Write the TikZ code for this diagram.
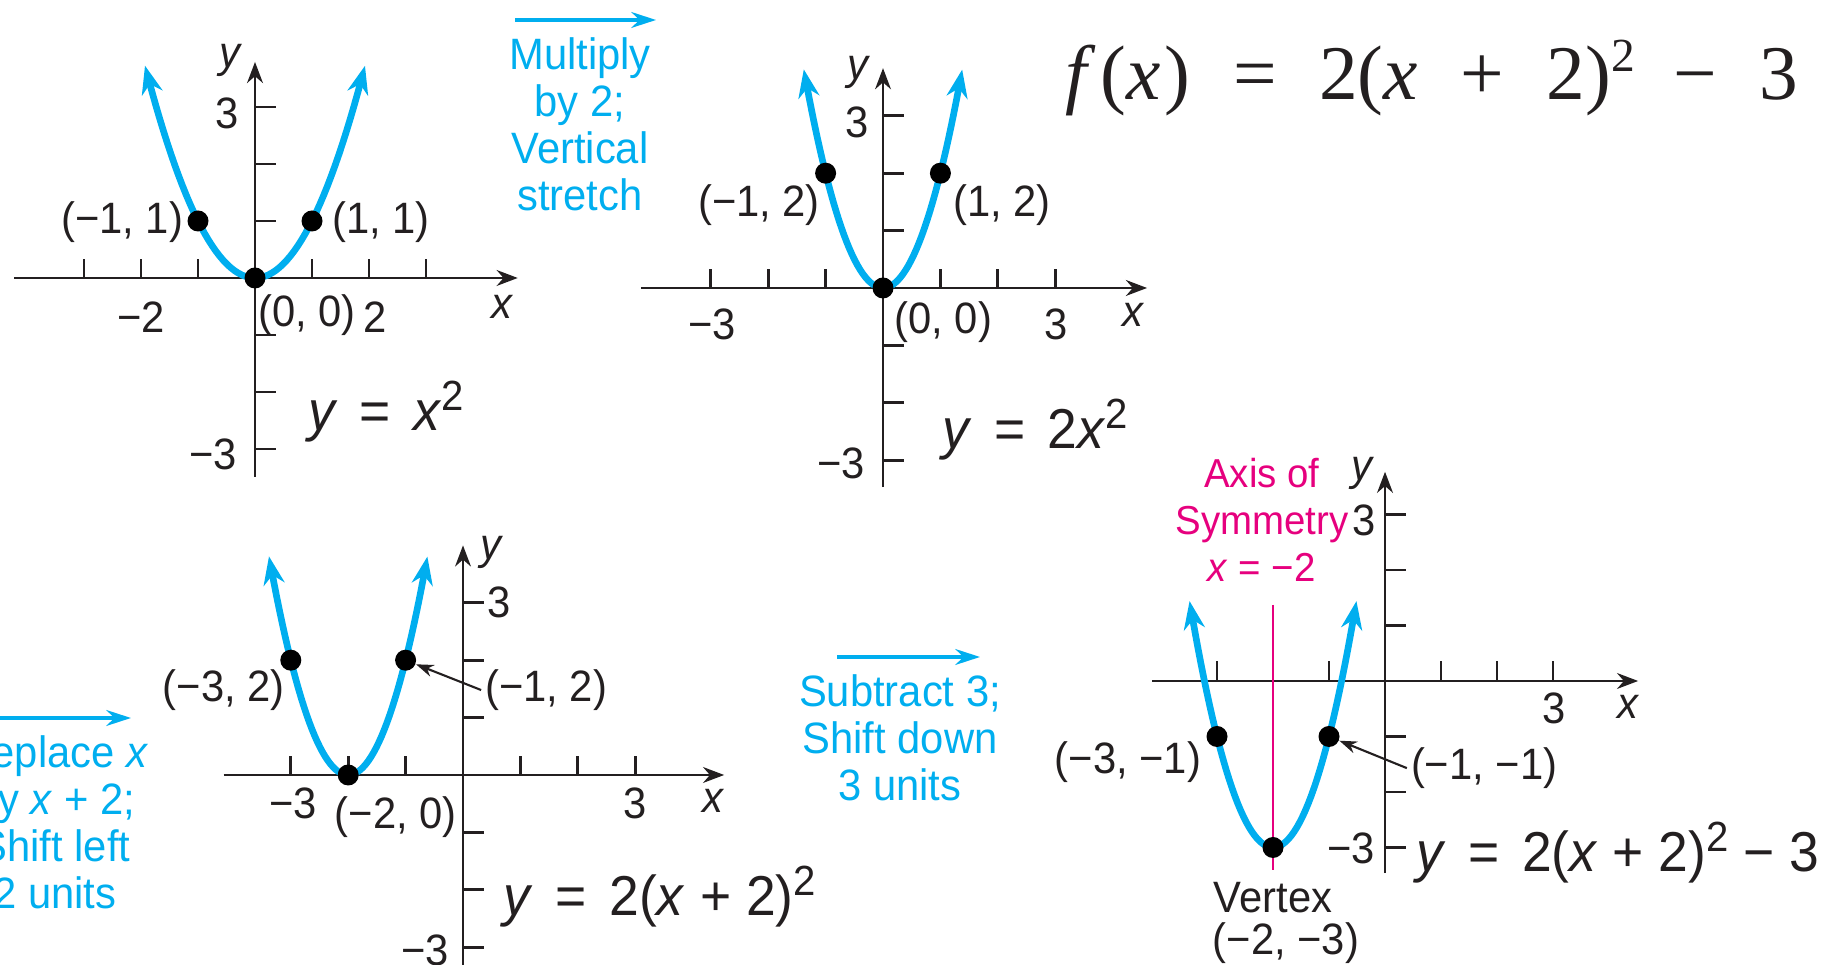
\documentclass[tikz,border=0pt]{standalone}
\usepackage{fontspec}
\usetikzlibrary{arrows.meta}
\usepackage{xcolor}
\setmainfont{Liberation Serif}
\newfontfamily\graphfont[FakeStretch=0.95]{Liberation Sans}
\definecolor{CurveCyan}{HTML}{00AEEF}
\definecolor{AxisMagenta}{HTML}{E6007E}
\definecolor{InkBlack}{HTML}{231F20}
\newcommand{\supsq}{\raisebox{5.7pt}{\fontsize{12}{12}\selectfont 2}}
\newcommand{\eqgap}{\hspace{0.4em}}
\tikzset{
    % Axis styles
    axisline/.style={
        -{Stealth[length=6pt,width=4.5pt]},
        line width=0.8pt,
        draw=InkBlack
    },
    tickmark/.style={
        line width=0.8pt,
        draw=InkBlack
    },
    % Curve and point styles
    parabola/.style={
        {Stealth[length=8pt,width=6pt]}-{Stealth[length=8pt,width=6pt]},
        line width=1.9pt,
        draw=CurveCyan,
        samples=60
    },
    dot/.style={
        circle,
        fill=black,
        inner sep=0pt,
        minimum size=0.21cm
    },
    symmetry/.style={
        line width=0.5pt,
        draw=AxisMagenta
    },
    % Text styles
    lbl/.style={
        font=\graphfont\fontsize{12.5}{12.8}\selectfont,
        inner sep=0pt,
        text=InkBlack
    },
    eqn/.style={
        font=\graphfont\fontsize{16}{18}\selectfont,
        inner sep=0pt,
        text=InkBlack
    },
    shiftnote/.style={
        font=\graphfont\fontsize{12.5}{13.4}\selectfont,
        align=center,
        inner sep=0pt,
        text=CurveCyan
    },
    axisnote/.style={
        font=\graphfont\fontsize{11.5}{13.4}\selectfont,
        align=center,
        inner sep=0pt,
        text=AxisMagenta
    },
    % Arrow styles
    shiftarrow/.style={
        -{Stealth[length=7pt,width=4.5pt]},
        line width=1pt,
        draw=CurveCyan
    },
    pointer/.style={
        -{Stealth[length=5pt,width=3.5pt]},
        line width=0.6pt,
        draw=InkBlack
    }
}

\begin{document}
\begin{tikzpicture}
    \useasboundingbox (0,0) rectangle (18.31,9.65);
    \clip (0,0) rectangle (18.31,9.65);

    % Top equation
    \node[inner sep=0pt, anchor=base, text=InkBlack, font=\fontsize{22}{24}\selectfont] (fx) at (14.32,8.65)
        {\textit{f}\hspace{0.06em}(\textit{x}\hspace{0.05em})\hspace{0.55em}=\hspace{0.55em}2(\textit{x}\hspace{0.55em}+\hspace{0.55em}2)\raisebox{8pt}{\fontsize{13.5}{13.5}\selectfont 2}\hspace{0.5em}−\hspace{0.55em}3};

    % Transformation steps
    \coordinate (st1a) at (5.15,9.45);
    \coordinate (st1b) at (6.56,9.45);
    \draw[shiftarrow] (st1a) -- (st1b);
    \node[shiftnote] (st1) at (5.80,8.41) {Multiply\\by 2;\\Vertical\\stretch};

    \coordinate (st2a) at (-0.2,2.47);
    \coordinate (st2b) at (1.31,2.47);
    \draw[shiftarrow] (st2a) -- (st2b);
    \node[shiftnote] (st2) at (0.55,1.43) {Replace \textit{x}\\by \textit{x} + 2;\\Shift left\\2 units};

    \coordinate (st3a) at (8.37,3.08);
    \coordinate (st3b) at (9.80,3.08);
    \draw[shiftarrow] (st3a) -- (st3b);
    \node[shiftnote] (st3) at (9.0,2.27) {Subtract 3;\\Shift down\\3 units};

    % Graph of y = x^2
    \begin{scope}[shift={(2.55,6.87)}, x=0.57cm, y=0.57cm]
        \draw[axisline] (-4.22,0) -- (4.61,0);
        \draw[axisline] (0,-3.49) -- (0,3.79);
        \foreach \tk in {-3,-2,-1,1,2,3} {
            \draw[tickmark] (\tk,0) -- (\tk,0.33);
            \draw[tickmark] (0,\tk) -- (0.37,\tk);
        }
        \draw[parabola] plot[domain=-1.93:1.93] (\x,{\x*\x});
        \node[dot] (pA1) at (-1,1) {};
        \node[dot] (pA2) at (1,1) {};
        \node[dot] (pA0) at (0,0) {};
        \node[lbl] (yA) at (-0.42,3.82) {\textit{y}};
        \node[lbl] (xA) at (4.35,-0.51) {\textit{x}};
        \node[lbl] (yA3) at (-0.49,2.89) {3};
        \node[lbl] (yAm3) at (-0.73,-3.1) {−3};
        \node[lbl] (xAm2) at (-2.0,-0.68) {−2};
        \node[lbl] (xA2) at (2.1,-0.68) {2};
        \node[lbl] (lA1) at (-2.33,0.98) {(−1, 1)};
        \node[lbl] (lA2) at (2.21,0.98) {(1, 1)};
        \node[lbl] (lA0) at (0.91,-0.65) {(0, 0)};
        \node[eqn] (eqA) at (2.3,-2.35) {\textit{y}\eqgap=\eqgap\textit{x}\supsq};
    \end{scope}

    % Graph of y = 2x^2
    \begin{scope}[shift={(8.83,6.77)}, x=0.574cm, y=0.574cm]
        \draw[axisline] (-4.22,0) -- (4.6,0);
        \draw[axisline] (0,-3.47) -- (0,3.83);
        \foreach \tk in {-3,-2,-1,1,2,3} {
            \draw[tickmark] (\tk,0) -- (\tk,0.33);
            \draw[tickmark] (0,\tk) -- (0.37,\tk);
        }
        \draw[parabola] plot[domain=-1.38:1.38] (\x,{2*\x*\x});
        \node[dot] (pB1) at (-1,2) {};
        \node[dot] (pB2) at (1,2) {};
        \node[dot] (pB0) at (0,0) {};
        \node[lbl] (yB) at (-0.42,3.76) {\textit{y}};
        \node[lbl] (xB) at (4.36,-0.47) {\textit{x}};
        \node[lbl] (yB3) at (-0.45,2.89) {3};
        \node[lbl] (yBm3) at (-0.73,-3.05) {−3};
        \node[lbl] (xBm3) at (-2.98,-0.64) {−3};
        \node[lbl] (xB3) at (3.01,-0.64) {3};
        \node[lbl] (lB1) at (-2.16,1.45) {(−1, 2)};
        \node[lbl] (lB2) at (2.07,1.45) {(1, 2)};
        \node[lbl] (lB0) at (1.05,-0.59) {(0, 0)};
        \node[eqn] (eqB) at (2.65,-2.47) {\textit{y}\eqgap=\eqgap2\textit{x}\supsq};
    \end{scope}

    % Graph of y = 2(x+2)^2
    \begin{scope}[shift={(4.63,1.90)}, x=0.574cm, y=0.574cm]
        \draw[axisline] (-4.17,0) -- (4.55,0);
        \draw[axisline] (0,-3.6) -- (0,4.0);
        \foreach \tk in {-3,-2,-1,1,2,3} {
            \draw[tickmark] (\tk,0) -- (\tk,0.33);
            \draw[tickmark] (0,\tk) -- (0.37,\tk);
        }
        \draw[parabola] plot[domain=-3.38:-0.62] (\x,{2*(\x+2)*(\x+2)});
        \node[dot] (pC1) at (-3,2) {};
        \node[dot] (pC2) at (-1,2) {};
        \node[dot] (pC0) at (-2,0) {};
        \node[lbl] (yC) at (0.5,3.87) {\textit{y}};
        \node[lbl] (xC) at (4.37,-0.45) {\textit{x}};
        \node[lbl] (yC3) at (0.63,3.0) {3};
        \node[lbl] (yCm3) at (-0.66,-3.05) {−3};
        \node[lbl] (xCm3) at (-2.96,-0.49) {−3};
        \node[lbl] (xC3) at (3.0,-0.49) {3};
        \node[lbl] (lC1) at (-4.17,1.48) {(−3, 2)};
        \node[lbl] (lC2) at (1.45,1.48) {(−1, 2)};
        \node[lbl] (lC0) at (-1.17,-0.73) {(−2, 0)};
        \node[eqn] (eqC) at (3.43,-2.12) {\textit{y}\eqgap=\eqgap2(\textit{x} + 2)\supsq};
        \draw[pointer] ([xshift=-1pt]lC2.west) -- (pC2);
    \end{scope}

    % Graph of y = 2(x+2)^2 - 3
    \begin{scope}[shift={(13.85,2.84)}, x=0.56cm, y=0.555cm]
        \draw[axisline] (-4.16,0) -- (4.52,0);
        \draw[axisline] (0,-3.46) -- (0,3.77);
        \foreach \tk in {-3,-2,-1,1,2,3} {
            \draw[tickmark] (\tk,0) -- (\tk,0.36);
            \draw[tickmark] (0,\tk) -- (0.38,\tk);
        }
        \draw[symmetry] (-2,1.37) -- (-2,-3.4);
        \draw[parabola] plot[domain=-3.49:-0.51] (\x,{2*(\x+2)*(\x+2)-3});
        \node[dot] (pD1) at (-3,-1) {};
        \node[dot] (pD2) at (-1,-1) {};
        \node[dot] (pD0) at (-2,-3) {};
        \node[lbl] (yD) at (-0.39,3.74) {\textit{y}};
        \node[lbl] (xD) at (4.34,-0.47) {\textit{x}};
        \node[lbl] (yD3) at (-0.37,2.89) {3};
        \node[lbl] (yDm3) at (-0.61,-3.01) {−3};
        \node[lbl] (xD3) at (3.02,-0.49) {3};
        \node[lbl] (lD1) at (-4.59,-1.46) {(−3, −1)};
        \node[lbl] (lD2) at (1.77,-1.57) {(−1, −1)};
        \node[lbl] (vtx) at (-2.0,-3.91) {Vertex};
        \node[lbl] (vtxc) at (-1.77,-4.72) {(−2, −3)};
        \node[axisnote] (aos) at (-2.2,2.9) {Axis of\\Symmetry\\\textit{x} = −2};
        \node[eqn] (eqD) at (4.16,-3.1) {\textit{y}\eqgap=\eqgap2(\textit{x} + 2)\supsq{} − 3};
        \draw[pointer] ([xshift=-1pt]lD2.west) -- (pD2);
    \end{scope}
\end{tikzpicture}
\end{document}
